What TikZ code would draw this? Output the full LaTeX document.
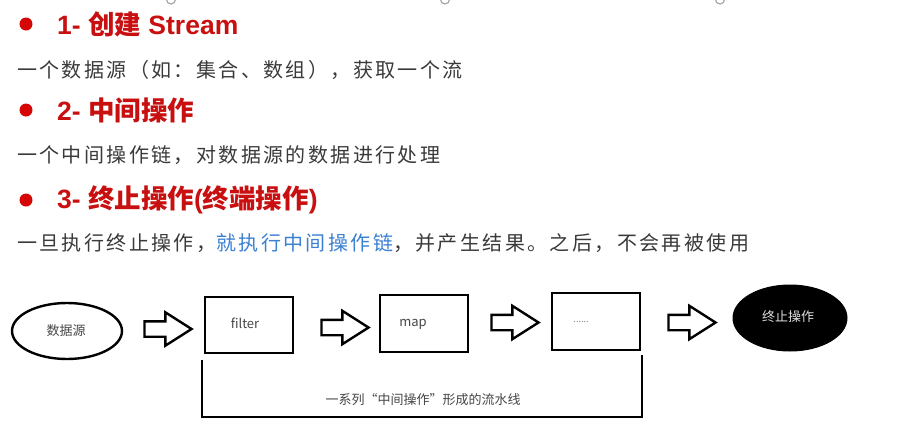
\documentclass[tikz,border=0pt]{standalone}
\usepackage{fontspec}
\usetikzlibrary{shapes.geometric,shapes.arrows,calc}
\setmainfont{Noto Sans CJK SC}
\newfontfamily\bodyfont[LetterSpace=12]{Noto Sans CJK SC}
\newfontfamily\hcjk{Noto Sans CJK SC}
\newfontfamily\hlat{Liberation Sans}
\newfontfamily\smallcjk{Noto Sans CJK SC}
\definecolor{hred}{RGB}{200,16,16}
\definecolor{dotred}{RGB}{214,6,6}
\definecolor{bodygray}{RGB}{58,58,58}
\definecolor{linkblue}{RGB}{58,128,210}
\definecolor{lblgray}{RGB}{70,70,70}
\begin{document}
\begin{tikzpicture}[x=1pt,y=-1pt,
  bulletdot/.style={circle,fill=dotred,inner sep=0pt,minimum size=13pt},
  headtxt/.style={anchor=west,inner sep=0pt,text=hred,font=\fontsize{26.5}{29}\selectfont},
  bodytxt/.style={anchor=west,inner sep=0pt,text=bodygray,font=\bodyfont\fontsize{20}{23}\selectfont},
  stagebox/.style={draw=black,line width=2.6pt,minimum width=88pt,minimum height=56pt,inner sep=0pt},
  lbl/.style={inner sep=0pt,text=lblgray,font=\smallcjk\fontsize{13}{15}\selectfont},
  blockarrow/.style={shape=single arrow,draw=black,fill=white,line width=2.4pt,
     inner xsep=0pt,inner ysep=6.5pt,minimum height=47pt,
     single arrow head extend=9pt,single arrow tip angle=65,single arrow head indent=0pt},
  handle/.style={circle,draw=gray!70,fill=white,line width=1.2pt,minimum size=9pt,inner sep=0pt}
]
\useasboundingbox (0,0) rectangle (911,437);
\fill[white] (0,0) rectangle (911,437);

% selection frame remnants at the top
\node[handle] (hA) at (171,-0.5) {};
\node[handle] (hB) at (445,-0.5) {};
\node[handle] (hC) at (720,-0.5) {};
\draw[gray!60,dotted,line width=0.8pt] (hA) -- (hB);
\draw[gray!60,dotted,line width=0.8pt] (hB) -- (hC);

% headings
\node[bulletdot] (d1) at (26,24) {};
\node[headtxt] (h1) at (57,24) {\hlat\bfseries 1-\ {\hcjk\bfseries 创建}\ Stream};
\node[bodytxt] (t1) at (17,70) {一个数据源（如：集合、数组），获取一个流};

\node[bulletdot] (d2) at (26,110) {};
\node[headtxt] (h2) at (57,110) {\hlat\bfseries 2-\ {\hcjk\bfseries 中间操作}};
\node[bodytxt] (t2) at (17,155) {一个中间操作链，对数据源的数据进行处理};

\node[bulletdot] (d3) at (26,200) {};
\node[headtxt] (h3) at (57,200) {\hlat\bfseries 3-\ {\hcjk\bfseries 终止操作}(\hcjk\bfseries 终端操作\hlat\bfseries )};
\node[bodytxt] (t3) at (17,243) {一旦执行终止操作，\textcolor{linkblue}{就执行中间操作链}，并产生结果。之后，不会再被使用};

% pipeline
\node[ellipse,draw=black,line width=2.4pt,minimum width=110pt,minimum height=56pt,inner sep=0pt] (src) at (67,331) {};
\node[lbl] (srclbl) at (66,331) {数据源};

\node[stagebox] (filter) at (249,325) {};
\node[lbl] (filterlbl) at (245,323) {filter};

\node[stagebox,minimum height=57pt] (map) at (424,323.5) {};
\node[lbl] (maplbl) at (413,324) {map};

\node[stagebox,minimum height=57pt] (more) at (596,321.5) {};
\node[lbl,text=gray,font=\smallcjk\fontsize{9}{10}\selectfont] (morelbl) at (581,322) {......};

\node[ellipse,draw=black,fill=black,line width=1pt,minimum width=114pt,minimum height=66pt,inner sep=0pt] (term) at (790,318) {};
\node[lbl,text=gray!25] (termlbl) at (788,317) {终止操作};

\node[blockarrow] (a1) at (162,329) {};
\node[blockarrow] (a2) at (339,327.5) {};
\node[blockarrow] (a3) at (509,322.5) {};
\node[blockarrow] (a4) at (686,322.5) {};

% bracket under the intermediate operations
\coordinate (bTL) at (202,360);
\coordinate (bBL) at (202,417);
\coordinate (bBR) at (642,417);
\coordinate (bTR) at (642,355);
\draw[line width=2.6pt,line join=miter] (bTL) -- (bBL) -- (bBR) -- (bTR);
\node[lbl] (chainlbl) at (423,400) {一系列“中间操作”形成的流水线};
\end{tikzpicture}
\end{document}
